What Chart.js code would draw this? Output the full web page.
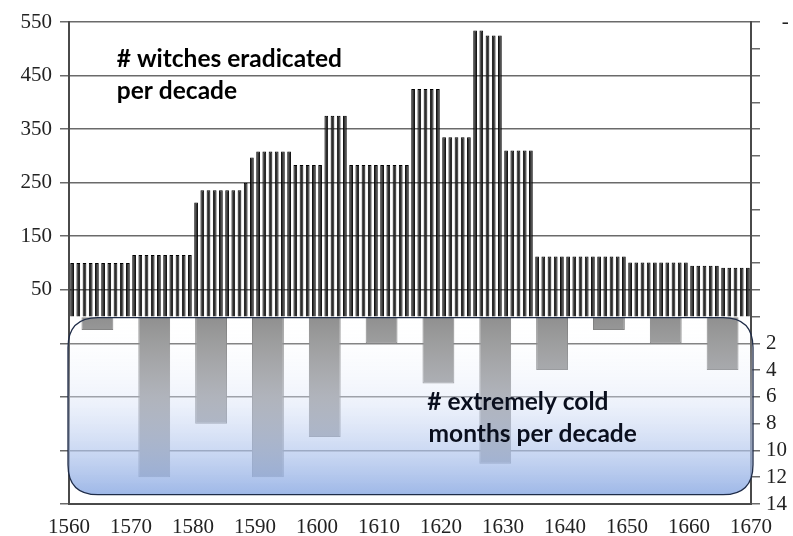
<!DOCTYPE html>
<html>
<head>
<meta charset="utf-8">
<script src="https://cdn.jsdelivr.net/npm/chart.js@4.4.1/dist/chart.umd.min.js"></script>
<style>
  html, body { margin: 0; padding: 0; background: #ffffff; }
  #wrap { width: 793px; height: 536px; }
</style>
</head>
<body>
<div id="wrap"><canvas id="c" width="793" height="536"></canvas></div>
<script>
// ---- data ----
const years = [1560,1561,1562,1563,1564,1565,1566,1567,1568,1569,
  1570,1571,1572,1573,1574,1575,1576,1577,1578,1579,
  1580,1581,1582,1583,1584,1585,1586,1587,1588,1589,
  1590,1591,1592,1593,1594,1595,1596,1597,1598,1599,
  1600,1601,1602,1603,1604,1605,1606,1607,1608,1609,
  1610,1611,1612,1613,1614,1615,1616,1617,1618,1619,
  1620,1621,1622,1623,1624,1625,1626,1627,1628,1629,
  1630,1631,1632,1633,1634,1635,1636,1637,1638,1639,
  1640,1641,1642,1643,1644,1645,1646,1647,1648,1649,
  1650,1651,1652,1653,1654,1655,1656,1657,1658,1659,
  1660,1661,1662,1663,1664,1665,1666,1667,1668,1669];

const witchesPerDecade = [
  100,100,100,100,100,100,100,100,100,100,
  115,115,115,115,115,115,115,115,115,115,
  213,236,236,236,236,236,236,236,250,297,
  308,308,308,308,308,308,283,283,283,283,
  283,375,375,375,375,283,283,283,283,283,
  283,283,283,283,283,425,425,425,425,425,
  335,335,335,335,335,534,534,525,525,525,
  310,310,310,310,310,112,112,112,112,112,
  112,112,112,112,112,112,112,112,112,112,
  101,101,101,101,101,101,101,101,101,101,
  95,95,95,95,95,91,91,91,91,91];

const decades = ['1560s','1570s','1580s','1590s','1600s','1610s','1620s','1630s','1640s','1650s','1660s','1670s'];
const coldMonths = [1,12,8,12,9,2,5,11,4,1,2,4];

const xTickYears = [1560,1570,1580,1590,1600,1610,1620,1630,1640,1650,1660,1670];
const leftTickLabels = [50,150,250,350,450,550];
const rightTickLabels = [2,4,6,8,10,12,14];

const topLabel = ['# witches eradicated', 'per decade'];
const bottomLabel = ['# extremely cold', 'months per decade'];

// ---- drawing helpers ----
const SERIF = "'Liberation Serif', 'Times New Roman', serif";
const LABEL_FONT = "bold 24.5px Lato, 'Open Sans', sans-serif";

const overlayPlugin = {
  id: 'overlay',
  afterDatasetsDraw(chart) {
    const {ctx, chartArea} = chart;
    const y2 = chart.scales.y2;
    const left = chartArea.left - 1;
    const right = chartArea.right + 2;
    const top = y2.getPixelForValue(0) + 1;
    const bottom = y2.getPixelForValue(13.3);
    const r = 30;
    ctx.save();
    ctx.beginPath();
    ctx.moveTo(left + r, top);
    ctx.lineTo(right - r, top);
    ctx.quadraticCurveTo(right, top, right, top + r);
    ctx.lineTo(right, bottom - r);
    ctx.quadraticCurveTo(right, bottom, right - r, bottom);
    ctx.lineTo(left + r, bottom);
    ctx.quadraticCurveTo(left, bottom, left, bottom - r);
    ctx.lineTo(left, top + r);
    ctx.quadraticCurveTo(left, top, left + r, top);
    ctx.closePath();
    const g = ctx.createLinearGradient(0, top, 0, bottom);
    g.addColorStop(0, 'rgba(255,255,255,0.05)');
    g.addColorStop(0.45, 'rgba(222,230,248,0.45)');
    g.addColorStop(1, 'rgba(145,174,228,0.88)');
    ctx.fillStyle = g;
    ctx.fill();
    ctx.lineWidth = 1.3;
    ctx.strokeStyle = '#1f2c48';
    ctx.stroke();
    ctx.restore();
  },
  afterDraw(chart) {
    const {ctx} = chart;
    const xt = chart.scales.xt, y = chart.scales.y, y2 = chart.scales.y2;
    ctx.save();
    ctx.textAlign = 'left';
    ctx.textBaseline = 'alphabetic';
    ctx.fillStyle = '#000000';
    ctx.font = LABEL_FONT;
    ctx.fillText(topLabel[0], xt.getPixelForValue(1567.7), y.getPixelForValue(466));
    ctx.fillText(topLabel[1], xt.getPixelForValue(1567.7), y.getPixelForValue(407));
    ctx.fillStyle = '#0a0f1e';
    ctx.fillText(bottomLabel[0], xt.getPixelForValue(1617.8), y2.getPixelForValue(7.0));
    ctx.fillText(bottomLabel[1], xt.getPixelForValue(1618.0), y2.getPixelForValue(9.4));
    ctx.restore();
  }
};

new Chart(document.getElementById('c'), {
  type: 'bar',
  data: {
    datasets: [
      {
        label: '# witches eradicated per decade',
        data: witchesPerDecade,
        xAxisID: 'x',
        yAxisID: 'y',
        grouped: false,
        backgroundColor: '#2c2c2c',
        borderColor: '#000000',
        borderWidth: 1,
        barPercentage: 0.6,
        categoryPercentage: 1.0
      },
      {
        label: '# extremely cold months per decade',
        data: coldMonths,
        xAxisID: 'x2',
        yAxisID: 'y2',
        grouped: false,
        backgroundColor: '#8a8a8a',
        borderColor: '#767676',
        borderWidth: 1,
        barPercentage: 0.56,
        categoryPercentage: 1.0
      }
    ]
  },
  options: {
    responsive: false,
    animation: false,
    devicePixelRatio: 1,
    layout: { padding: { top: 22, left: 0, right: 0, bottom: 0 } },
    plugins: { legend: { display: false }, tooltip: { enabled: false } },
    scales: {
      x: { type: 'category', labels: years, display: false, offset: true },
      x2: { type: 'category', labels: decades, display: false, offset: true },
      xt: {
        type: 'linear', position: 'bottom', min: 1560, max: 1670, offset: false,
        grid: { display: false, drawTicks: false, offset: false },
        border: { display: true, color: '#4a4a4a', width: 2 },
        afterBuildTicks(s) { s.ticks = xTickYears.map(v => ({ value: v })); },
        ticks: {
          autoSkip: false, maxRotation: 0, padding: 11, color: '#222222',
          font: { family: SERIF, size: 21 },
          callback: v => String(v)
        },
        afterFit(s) { s.height = 32; }
      },
      y: {
        position: 'left', min: -350, max: 550,
        afterBuildTicks(s) {
          const t = [];
          for (let v = -350; v <= 550; v += 100) t.push({ value: v });
          s.ticks = t;
        },
        ticks: {
          padding: 8, color: '#222222', autoSkip: false,
          font: { family: SERIF, size: 21 },
          callback: v => (leftTickLabels.includes(v) ? String(v) : '')
        },
        grid: { color: '#6a6a6a', lineWidth: 1.5, tickLength: 9 },
        border: { display: true, color: '#4a4a4a', width: 2 },
        afterFit(s) { s.width = 69; }
      },
      y2: {
        position: 'right', reverse: true, min: -22, max: 14,
        ticks: {
          stepSize: 2, padding: 6, color: '#222222', autoSkip: false,
          font: { family: SERIF, size: 21 },
          callback: v => (rightTickLabels.includes(v) ? String(v) : (v === -22 ? '   -' : ''))
        },
        grid: { drawOnChartArea: false, color: '#6a6a6a', lineWidth: 1.5, tickLength: 9 },
        border: { display: true, color: '#4a4a4a', width: 2 },
        afterFit(s) { s.width = 42; }
      }
    }
  },
  plugins: [overlayPlugin]
});
</script>
</body>
</html>
